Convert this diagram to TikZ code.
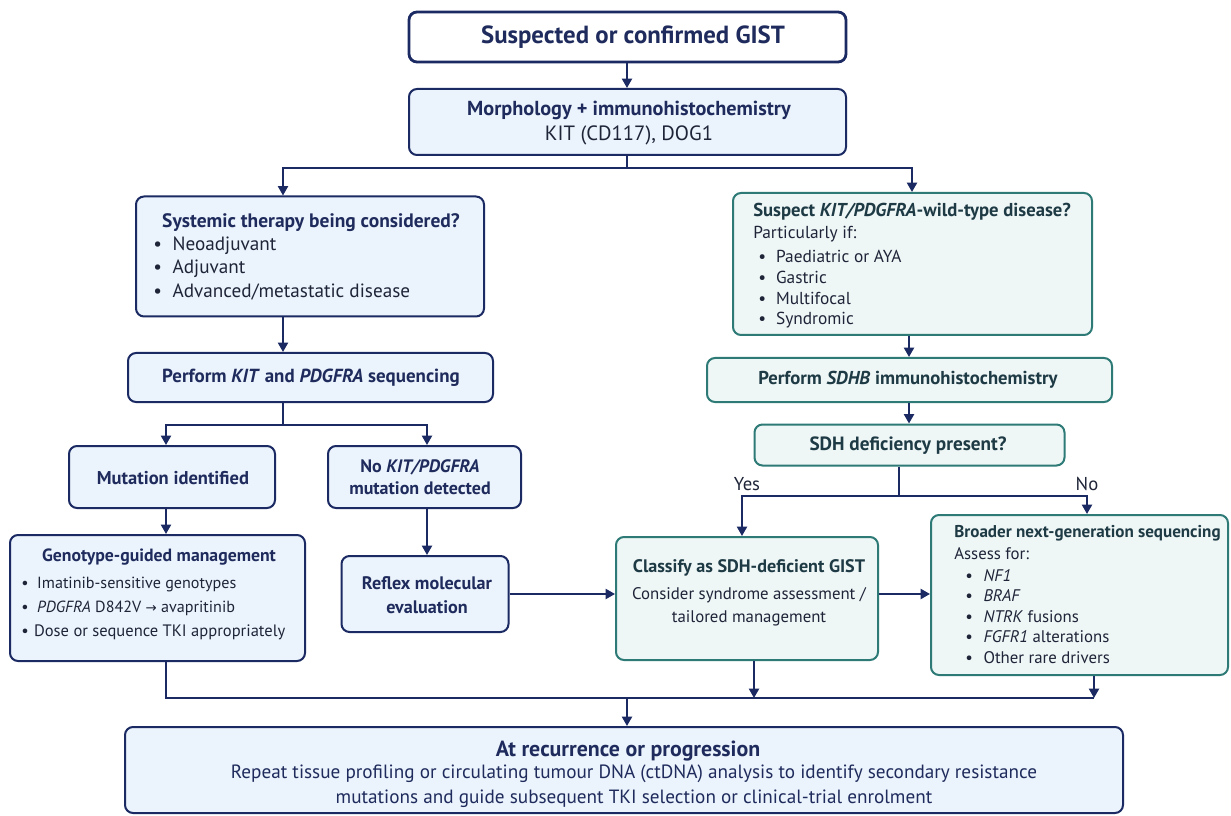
\documentclass[tikz,border=0pt]{standalone}
\usepackage{fontspec}
\setmainfont{PT Sans}
\newfontfamily\symfont{DejaVu Sans}
\usetikzlibrary{arrows.meta}
\definecolor{navy}{HTML}{1B2A63}
\definecolor{navytxt}{HTML}{1E2B5C}
\definecolor{bodytxt}{HTML}{1F2538}
\definecolor{bluefill}{HTML}{EBF3FC}
\definecolor{teal}{HTML}{2D7A76}
\definecolor{tealfill}{HTML}{EEF6F6}
\definecolor{tealtxt}{HTML}{1E3A44}
\newcommand{\fsz}[1]{\fontsize{#1}{#1}\selectfont}
\begin{document}
\begin{tikzpicture}[x=0.75pt,y=-0.75pt,
  bx/.style={draw=navy,line width=1.5pt,rounded corners=6pt,fill=bluefill,inner sep=0pt},
  tbx/.style={draw=teal,line width=1.5pt,rounded corners=6pt,fill=tealfill,inner sep=0pt},
  ttl/.style={font=\bfseries\fsz{14},text=navytxt,inner sep=0pt},
  tttl/.style={font=\bfseries\fsz{14},text=tealtxt,inner sep=0pt},
  bod/.style={font=\fsz{13},text=bodytxt,inner sep=0pt},
  ln/.style={draw=navy,line width=1.5pt},
  arr/.style={draw=navy,line width=1.5pt,-{Triangle[length=7pt,width=7.5pt]}}
]
\useasboundingbox (0,0) rectangle (1231,816);
\fill[white] (0,0) rectangle (1231,816);

% boxes
\node[bx,fill=white,line width=2.1pt,minimum width=327.75pt,minimum height=37.5pt] (top) at (627.5,37) {};
\node[bx,minimum width=327.75pt,minimum height=49.5pt] (morph) at (627.5,122) {};
\node[bx,minimum width=261pt,minimum height=90pt] (sys) at (310,256.5) {};
\node[tbx,minimum width=269.25pt,minimum height=106.5pt] (sus) at (912.5,264) {};
\node[bx,minimum width=273.75pt,minimum height=36.75pt] (kit) at (310.5,377.5) {};
\node[tbx,minimum width=303.75pt,minimum height=33pt] (sdhb) at (909.5,380) {};
\node[tbx,minimum width=232.5pt,minimum height=30.75pt] (sdh) at (909.5,445) {};
\node[bx,minimum width=154.5pt,minimum height=46.5pt] (mut) at (172,477) {};
\node[bx,minimum width=144.75pt,minimum height=46.5pt] (nokit) at (424.5,477) {};
\node[bx,minimum width=221.25pt,minimum height=94.5pt] (geno) at (157.5,598) {};
\node[bx,minimum width=125.25pt,minimum height=57pt] (reflex) at (425,594) {};
\node[tbx,minimum width=196.5pt,minimum height=92.25pt] (class) at (747,598.5) {};
\node[tbx,minimum width=222.75pt,minimum height=120pt] (broad) at (1079.5,595) {};
\node[bx,minimum width=748.5pt,minimum height=64.5pt] (bot) at (624,770) {};

% texts
\node[ttl,font=\bfseries\fsz{18.6}] (tTop) at (633,37) {Suspected or confirmed GIST};
\node[ttl,font=\bfseries\fsz{15.2}] (tMorph) at (629,110) {Morphology + immunohistochemistry};
\node[bod,font=\fsz{15.5}] (tMorph2) at (629,135) {KIT (CD117), DOG1};

\node[ttl,font=\bfseries\fsz{14.6}] (tSys) at (311,223) {Systemic therapy being considered?};
\node[bod,font=\fsz{14.4},anchor=west] (sys1) at (153,246) {\textbullet\hspace{8pt}Neoadjuvant};
\node[bod,font=\fsz{14.4},anchor=west] (sys2) at (153,269) {\textbullet\hspace{8pt}Adjuvant};
\node[bod,font=\fsz{14.4},anchor=west] (sys3) at (153,292) {\textbullet\hspace{8pt}Advanced/metastatic disease};

\node[tttl,anchor=west] (tSus) at (753,212) {Suspect \textit{KIT/PDGFRA}-wild-type disease?};
\node[bod,anchor=west] (sus0) at (753,234) {Particularly if:};
\node[bod,anchor=west] (sus1) at (758,256) {\textbullet\hspace{7.5pt}Paediatric or AYA};
\node[bod,anchor=west] (sus2) at (758,277) {\textbullet\hspace{7.5pt}Gastric};
\node[bod,anchor=west] (sus3) at (758,298) {\textbullet\hspace{7.5pt}Multifocal};
\node[bod,anchor=west] (sus4) at (758,320) {\textbullet\hspace{7.5pt}Syndromic};

\node[ttl,font=\bfseries\fsz{14.2}] (tKit) at (311,378) {Perform \textit{KIT} and \textit{PDGFRA} sequencing};
\node[tttl] (tSdhb) at (908,380) {Perform \textit{SDHB} immunohistochemistry};
\node[tttl,font=\bfseries\fsz{14.4}] (tSdh) at (908,446) {SDH deficiency present?};
\node[bod,font=\fsz{14}] (yes) at (747,484) {Yes};
\node[bod,font=\fsz{14}] (no) at (1087,484) {No};

\node[ttl,font=\bfseries\fsz{13.9}] (tMut) at (173,478) {Mutation identified};
\node[ttl,font=\bfseries\fsz{13.5},align=center] (tNokit) at (420,477) {No \textit{KIT/PDGFRA}\\[3pt]mutation detected};

\node[ttl,font=\bfseries\fsz{13.3}] (tGeno) at (159,557) {Genotype-guided management};
\node[bod,anchor=west,font=\fsz{12.1}] (g1) at (21,584) {\textbullet\hspace{6.5pt}Imatinib-sensitive genotypes};
\node[bod,anchor=west,font=\fsz{12.1}] (g2) at (21,608) {\textbullet\hspace{6.5pt}\textit{PDGFRA} D842V {\symfont\fsz{10}→} avapritinib};
\node[bod,anchor=west,font=\fsz{12.4}] (g3) at (21,632) {\textbullet\hspace{4pt}Dose or sequence TKI appropriately};

\node[ttl,font=\bfseries\fsz{13.6},align=center] (tReflex) at (427,595) {Reflex molecular\\[4pt]evaluation};

\node[tttl,font=\bfseries\fsz{13.6}] (tClass) at (749,568) {Classify as SDH-deficient GIST};
\node[bod,font=\fsz{12.6},align=center] (class2) at (749,607) {Consider syndrome assessment /\\[5pt]tailored management};

\node[tttl,font=\bfseries\fsz{12.8},anchor=west] (tBroad) at (954,533) {Broader next-generation sequencing};
\node[bod,font=\fsz{12.6},anchor=west] (b0) at (954,554) {Assess for:};
\node[bod,font=\fsz{12.6},anchor=west] (b1) at (965,576) {\textbullet\hspace{8pt}\textit{NF1}};
\node[bod,font=\fsz{12.6},anchor=west] (b2) at (965,596) {\textbullet\hspace{8pt}\textit{BRAF}};
\node[bod,font=\fsz{12.6},anchor=west] (b3) at (965,617) {\textbullet\hspace{8pt}\textit{NTRK} fusions};
\node[bod,font=\fsz{12.6},anchor=west] (b4) at (965,637) {\textbullet\hspace{8pt}\textit{FGFR1} alterations};
\node[bod,font=\fsz{12.6},anchor=west] (b5) at (965,658) {\textbullet\hspace{8pt}Other rare drivers};

\node[ttl,font=\bfseries\fsz{16.4}] (tBot) at (628,751) {At recurrence or progression};
\node[bod,font=\fsz{14.4},align=center,text=navytxt] (bot2) at (634,786) {Repeat tissue profiling or circulating tumour DNA (ctDNA) analysis to identify secondary resistance\\[4pt]mutations and guide subsequent TKI selection or clinical-trial enrolment};

% helper x coordinates
\coordinate (xL) at (283,0);
\coordinate (xR) at (912,0);
\coordinate (xM) at (166,0);
\coordinate (xN) at (427,0);
\coordinate (xS) at (909,0);
\coordinate (xY) at (742,0);
\coordinate (xNo) at (1087,0);
\coordinate (xC) at (754,0);
\coordinate (xB) at (1094,0);
\coordinate (xT) at (627,0);
\coordinate (jTop) at (627,168);
\coordinate (jKit) at (283,425);
\coordinate (jSdh) at (899,496);
\coordinate (jBL) at (166,698);
\coordinate (jBR) at (1094,698);
\coordinate (jB) at (627,698);
\coordinate (jBC) at (754,698);

% connectors
\draw[arr] (top.south -| xT) -- (morph.north -| xT);
\draw[ln] (morph.south -| xT) -- (jTop);
\draw[arr] (jTop) -| (sys.north -| xL);
\draw[arr] (jTop) -| (sus.north -| xR);
\draw[arr] (sys.south -| xL) -- (kit.north -| xL);
\draw[ln] (kit.south -| xL) -- (jKit);
\draw[arr] (jKit) -| (mut.north -| xM);
\draw[arr] (jKit) -| (nokit.north -| xN);
\draw[arr] (mut.south -| xM) -- (geno.north -| xM);
\draw[arr] (nokit.south -| xN) -- (reflex.north -| xN);
\draw[arr] (reflex.east) -- (class.west |- reflex.east);
\draw[arr] (class.east |- reflex.east) -- (broad.west |- reflex.east);
\draw[arr] (sus.south -| xS) -- (sdhb.north -| xS);
\draw[arr] (sdhb.south -| xS) -- (sdh.north -| xS);
\draw[ln] (sdh.south -| jSdh) -- (jSdh);
\draw[arr] (jSdh) -| (class.north -| xY);
\draw[arr] (jSdh) -| (broad.north -| xNo);
\draw[ln] (geno.south -| xM) -- (jBL) -- (jBR);
\draw[arr] (class.south -| xC) -- (jBC);
\draw[arr] (broad.south -| xB) -- (jBR);
\draw[arr] (jB) -- (bot.north -| xT);
\end{tikzpicture}
\end{document}
